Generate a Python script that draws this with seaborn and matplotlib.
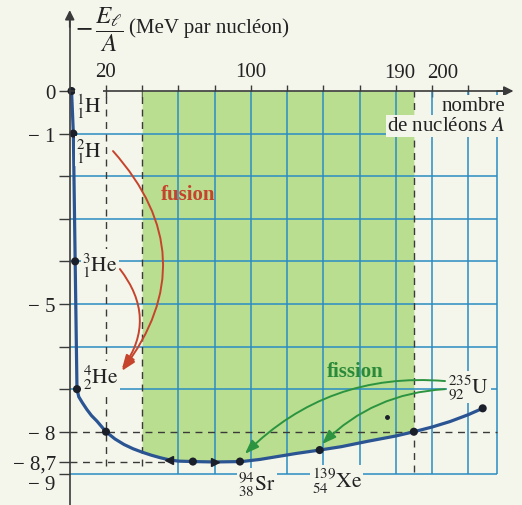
"""Courbe d'Aston : -E/A en fonction du nombre de nucléons A."""

import matplotlib.pyplot as plt
import matplotlib.transforms as mtransforms
import seaborn as sns

sns.set_theme(style="white")
plt.rcParams['font.family'] = 'serif'
plt.rcParams['font.serif'] = ['Liberation Serif', 'DejaVu Serif']
plt.rcParams['mathtext.fontset'] = 'stix'

BG = "#f4f6ec"
GREEN = "#b9de8f"
GRID = "#2a8cc2"
CURVE = "#2b5493"
RED = "#c6432c"
FGREEN = "#2c9440"
AXIS = "#3a3a3a"
TXT = "#222222"
FS = 15

# binding energy per nucleon
curve_A = [1, 2, 3, 4, 5, 7, 9.5, 12, 15, 20, 25, 30, 35, 40, 45, 50, 55, 60, 68,
           80, 95, 105, 115, 125, 138, 150, 165, 180, 190, 200, 210, 220, 228]
curve_E = [0, -1.0, -4.0, -7.0, -7.18, -7.32, -7.48, -7.62, -7.75, -8.0, -8.17, -8.3,
           -8.4, -8.48, -8.55, -8.61, -8.66, -8.69, -8.7, -8.71, -8.7, -8.65, -8.58,
           -8.51, -8.43, -8.35, -8.22, -8.1, -8.0, -7.89, -7.76, -7.6, -7.45]

# marked nuclei on the curve
point_A = [1, 2, 3, 4, 20, 68, 94, 138, 190, 228]
point_E = [0, -1.0, -4.0, -7.0, -8.0, -8.7, -8.7, -8.43, -8.0, -7.45]

nuclide_names = [r"${}^{1}_{1}\mathrm{H}$", r"${}^{2}_{1}\mathrm{H}$", r"${}^{3}_{1}\mathrm{He}$",
                 r"${}^{4}_{2}\mathrm{He}$", r"${}^{94}_{38}\mathrm{Sr}$",
                 r"${}^{139}_{54}\mathrm{Xe}$", r"${}^{235}_{92}\mathrm{U}$"]
nuclide_A = [3.5, 3.5, 6.8, 7.2, 93, 133.5, 209]
nuclide_E = [-0.35, -1.41, -4.08, -6.71, -9.22, -9.15, -6.95]

# axis ticks
ytick_values = [0, -1, -2, -3, -4, -5, -6, -7, -8, -8.7, -9]
ytick_text = ['0', '− 1', '', '', '', '− 5', '', '', '− 8', '− 8,7', '− 9']
xtick_values = [20, 40, 60, 80, 100, 120, 140, 160, 180, 200, 220]
xtick_text = ['20', '', '', '', '100', '', '', '', '', '', '']

grid_E = [-1, -2, -3, -4, -5, -6, -7, -9]
grid_A = [60, 80, 100, 120, 140, 160, 180, 200, 220, 236]
green_zone = (40, 190)

fig = plt.figure(figsize=(5.22, 5.06), dpi=100, facecolor=BG)
ax = fig.add_axes([0, 0, 1, 1], facecolor=BG)
ax.set_xlim(-38.5, 249.7)
ax.set_ylim(-9.72, 2.16)

# green zone above the curve
fa = [a for a in curve_A if green_zone[0] <= a <= green_zone[1]]
fe = [e for a, e in zip(curve_A, curve_E) if green_zone[0] <= a <= green_zone[1]]
ax.fill_between(fa, fe, 0, color=GREEN, lw=0, zorder=1)

# blue grid
ax.hlines(grid_E, 0, 236, color=GRID, lw=1.1, zorder=2)
ax.vlines(grid_A, -9, 0, color=GRID, lw=1.1, zorder=2)

# dashed guides
dash = dict(color=AXIS, lw=1.0, linestyles=(0, (5, 4)), zorder=3)
ax.hlines(-8, 0, 236, **dash)
ax.hlines(-8.7, 0, 55, **dash)
ax.vlines([20, 40], -8.8, 0, **dash)
ax.vlines(190, -8.95, 0, **dash)

# curve and points
sns.lineplot(x=curve_A, y=curve_E, ax=ax, color=CURVE, lw=2.3, sort=False,
             estimator=None, zorder=4)
sns.scatterplot(x=point_A, y=point_E, ax=ax, color="#1b1f2a", s=34, edgecolor="none",
                zorder=5)
ax.plot([55], [-8.66], marker='<', ms=6, color="#1b1f2a", zorder=5)
ax.plot([80], [-8.71], marker='>', ms=6, color="#1b1f2a", zorder=5)
ax.plot([175], [-7.65], marker='o', ms=2.5, color="#1b1f2a", zorder=5)

# axes through the origin
ax.spines['left'].set_position(('data', 0))
ax.spines['top'].set_position(('data', 0))
ax.spines['right'].set_visible(False)
ax.spines['bottom'].set_visible(False)
for s in ('left', 'top'):
    ax.spines[s].set_color(AXIS)
    ax.spines[s].set_linewidth(1.2)
    ax.spines[s].set_zorder(6)
ax.spines['left'].set_bounds(-9.72, 1.7)
ax.spines['top'].set_bounds(0, 240)
ax.annotate("", xy=(245, 0), xytext=(236, 0),
            arrowprops=dict(arrowstyle='-|>', color=AXIS, lw=1.2, mutation_scale=14,
                            shrinkA=0, shrinkB=0), zorder=6)
ax.annotate("", xy=(0, 1.9), xytext=(0, 1.5),
            arrowprops=dict(arrowstyle='-|>', color=AXIS, lw=1.2, mutation_scale=14,
                            shrinkA=0, shrinkB=0), zorder=6)

ax.yaxis.set_ticks_position('left')
ax.xaxis.set_ticks_position('top')
ax.set_yticks(ytick_values, ytick_text)
ax.set_xticks(xtick_values, xtick_text)
ax.tick_params(axis='y', direction='out', length=8, width=1, color=AXIS, pad=2,
               labelsize=FS, labelcolor=TXT)
ax.tick_params(axis='x', direction='inout', length=9, width=1, color=AXIS, pad=3,
               labelsize=FS, labelcolor=TXT)
ax.grid(False)
# the "− 9" label sits a little lower than its tick
for lab in ax.get_yticklabels():
    if lab.get_text() == '− 9':
        lab.set_transform(lab.get_transform() +
                          mtransforms.ScaledTranslation(0, -0.08, fig.dpi_scale_trans))
ax.text(182, 0.2, "190", ha='center', va='bottom', fontsize=FS, color=TXT)
ax.text(206, 0.2, "200", ha='center', va='bottom', fontsize=FS, color=TXT)

# axis titles
ax.text(2.8, 1.46, r"$-\,\dfrac{E_\ell}{A}$", ha='left', va='center', fontsize=18, color=TXT)
ax.text(32.5, 1.5, "(MeV par nucléon)", ha='left', va='center', fontsize=FS, color=TXT)
ax.text(240.5, -0.35, "nombre", ha='right', va='center', fontsize=FS, color=TXT, zorder=7,
        bbox=dict(facecolor=BG, edgecolor='none', pad=1.0))
ax.text(240.5, -0.82, r"de nucléons $A$", ha='right', va='center', fontsize=FS,
        color=TXT, zorder=7, bbox=dict(facecolor=BG, edgecolor='none', pad=1.0))

# nuclide labels
for name, a, e in zip(nuclide_names, nuclide_A, nuclide_E):
    ax.text(a, e, name, ha='left', va='center', fontsize=15.5, color=TXT, zorder=7,
            bbox=dict(facecolor=BG, edgecolor='none', pad=1.0))

# fusion / fission arrows
def arc_arrow(start, end, rad, color):
    ax.annotate("", xy=end, xytext=start, zorder=8,
                arrowprops=dict(arrowstyle='-|>,head_length=0.6,head_width=0.22',
                                connectionstyle=f'arc3,rad={rad}', color=color,
                                lw=1.4, mutation_scale=14, shrinkA=0, shrinkB=0))

arc_arrow((23.9, -1.41), (28.8, -6.57), -0.41, RED)
arc_arrow((27.7, -4.18), (28.8, -6.53), -0.37, RED)
arc_arrow((207.2, -6.81), (96.7, -8.52), 0.23, FGREEN)
arc_arrow((207.2, -7.0), (139.3, -8.29), 0.19, FGREEN)

ax.text(65.3, -2.42, "fusion", ha='center', va='center', fontsize=15,
        fontweight='bold', color=RED, zorder=8)
ax.text(157.5, -6.57, "fission", ha='center', va='center', fontsize=15,
        fontweight='bold', color="#2a8a3a", zorder=8)

fig.savefig("out.png", dpi=100, facecolor=BG)
